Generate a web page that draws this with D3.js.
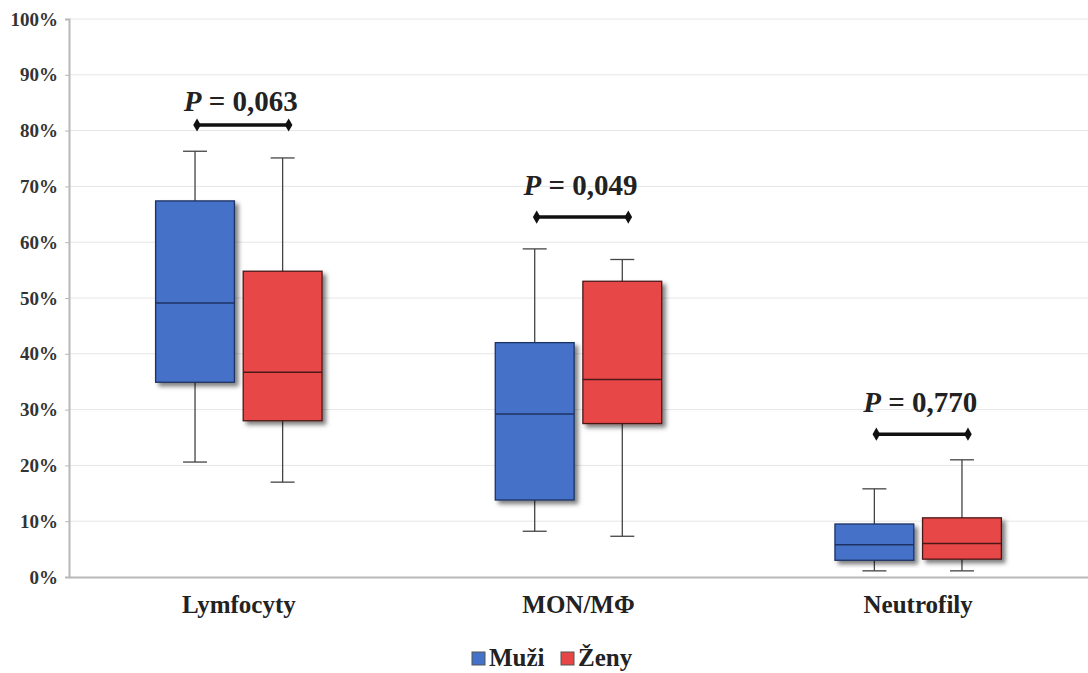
<!DOCTYPE html>
<html>
<head>
    <meta charset="utf-8">
    <title>Box plot with D3.js</title>
    <script src="https://d3js.org/d3.v7.min.js"></script>
    <style>
        body { margin: 0; background: #fff; }
        svg text { font-family: 'Liberation Serif', 'Times New Roman', Tinos, 'DejaVu Serif', serif !important; font-weight: bold; fill: #222; }
        .grid line { stroke: #e6e6e6; stroke-width: 1; }
        .whisker { stroke: #444; stroke-width: 1.3; }
    </style>
</head>
<body>
    <svg id="chart" width="1088" height="673"></svg>

    <script>
        // Categories and series
        const categories = ['Lymfocyty', 'MON/MΦ', 'Neutrofily'];
        const series = ['Muži', 'Ženy'];

        // Box values in % per category: [min, Q1, median, Q3, max]
        const muziBoxes = [
            [20.6, 34.9, 49.1, 67.4, 76.3],
            [8.2, 13.8, 29.2, 42.0, 58.8],
            [1.1, 3.0, 5.8, 9.5, 15.8]
        ];
        const zenyBoxes = [
            [17.0, 28.0, 36.7, 54.8, 75.1],
            [7.3, 27.5, 35.4, 53.0, 56.9],
            [1.1, 3.2, 6.0, 10.6, 21.0]
        ];

        // P-values with bracket level and text level (in %)
        const pLabels = ['0,063', '0,049', '0,770'];
        const pLineLevels = [81.0, 64.5, 25.6];
        const pTextLevels = [83.6, 68.5, 29.6];

        const yTicks = [0, 10, 20, 30, 40, 50, 60, 70, 80, 90, 100];

        const colors = { 'Muži': '#4472c8', 'Ženy': '#e84646' };
        const strokes = { 'Muži': '#1d3263', 'Ženy': '#4a1818' };

        const svg = d3.select('#chart');
        const plotL = 69, plotR = 1088, plotT = 19, plotB = 577;

        const y = d3.scaleLinear().domain([0, 100]).range([plotB, plotT]);
        const x0 = d3.scaleBand().domain(categories).range([plotL, plotR])
            .paddingInner(0.51).paddingOuter(0.255);
        const x1 = d3.scaleBand().domain(series).range([0, x0.bandwidth()]).paddingInner(0.1);

        // drop shadow for boxes
        const defs = svg.append('defs');
        const f = defs.append('filter').attr('id', 'shadow')
            .attr('x', '-10%').attr('y', '-10%').attr('width', '130%').attr('height', '130%');
        f.append('feDropShadow').attr('dx', 3.5).attr('dy', 3.5).attr('stdDeviation', 2)
            .attr('flood-color', '#000').attr('flood-opacity', 0.5);

        // gridlines
        svg.append('g').attr('class', 'grid')
            .selectAll('line').data(yTicks.filter(d => d > 0)).join('line')
            .attr('x1', plotL).attr('x2', plotR)
            .attr('y1', d => y(d)).attr('y2', d => y(d));

        // y axis
        const yAxis = svg.append('g').attr('transform', `translate(${plotL},0)`)
            .call(d3.axisLeft(y).tickValues(yTicks).tickFormat(d => d + '%').tickSize(4).tickPadding(7));
        yAxis.attr('font-family', null);
        yAxis.select('.domain').attr('stroke', '#b8b8b8').attr('stroke-width', 2);
        yAxis.selectAll('.tick line').attr('stroke', '#b8b8b8');
        yAxis.selectAll('.tick text').attr('font-size', 19).style('fill', '#333');

        // x axis
        const xAxis = svg.append('g').attr('transform', `translate(0,${plotB})`)
            .call(d3.axisBottom(x0).tickSize(0).tickPadding(18));
        xAxis.attr('font-family', null);
        xAxis.select('.domain').attr('stroke', '#b8b8b8').attr('stroke-width', 2);
        xAxis.selectAll('.tick text').attr('font-size', 25).style('fill', '#222');

        // boxes
        const boxData = [];
        categories.forEach((c, i) => {
            boxData.push({ cat: c, s: 'Muži', v: muziBoxes[i] });
            boxData.push({ cat: c, s: 'Ženy', v: zenyBoxes[i] });
        });

        const g = svg.append('g');
        const box = g.selectAll('g.box').data(boxData).join('g').attr('class', 'box')
            .attr('transform', d => `translate(${x0(d.cat) + x1(d.s)},0)`);
        const bw = x1.bandwidth();
        const cap = 24;

        box.append('line').attr('class', 'whisker')
            .attr('x1', bw / 2).attr('x2', bw / 2)
            .attr('y1', d => y(d.v[0])).attr('y2', d => y(d.v[4]));
        box.append('line').attr('class', 'whisker')
            .attr('x1', bw / 2 - cap / 2).attr('x2', bw / 2 + cap / 2)
            .attr('y1', d => y(d.v[0])).attr('y2', d => y(d.v[0]));
        box.append('line').attr('class', 'whisker')
            .attr('x1', bw / 2 - cap / 2).attr('x2', bw / 2 + cap / 2)
            .attr('y1', d => y(d.v[4])).attr('y2', d => y(d.v[4]));
        box.append('rect')
            .attr('x', 0).attr('width', bw)
            .attr('y', d => y(d.v[3])).attr('height', d => y(d.v[1]) - y(d.v[3]))
            .attr('fill', d => colors[d.s]).attr('stroke', d => strokes[d.s]).attr('stroke-width', 1.3)
            .attr('filter', 'url(#shadow)');
        box.append('line')
            .attr('x1', 0).attr('x2', bw)
            .attr('y1', d => y(d.v[2])).attr('y2', d => y(d.v[2]))
            .attr('stroke', d => strokes[d.s]).attr('stroke-width', 1.5);

        // p-value brackets
        const ann = svg.append('g').selectAll('g').data(categories).join('g');
        ann.append('line')
            .attr('x1', d => x0(d) + x1('Muži') + bw / 2 + 2)
            .attr('x2', d => x0(d) + x1('Ženy') + bw / 2 + 6)
            .attr('y1', (d, i) => y(pLineLevels[i])).attr('y2', (d, i) => y(pLineLevels[i]))
            .attr('stroke', '#111').attr('stroke-width', 3.5);
        [['Muži', 2], ['Ženy', 6]].forEach(([s, off]) => {
            ann.append('path')
                .attr('d', d3.symbol(d3.symbolDiamond, 50))
                .attr('transform', (d, i) => `translate(${x0(d) + x1(s) + bw / 2 + off},${y(pLineLevels[i])})`)
                .attr('fill', '#111');
        });
        const t = ann.append('text')
            .attr('x', d => x0(d) + x0.bandwidth() / 2 + 2)
            .attr('y', (d, i) => y(pTextLevels[i]))
            .attr('text-anchor', 'middle').attr('font-size', 29);
        t.append('tspan').attr('font-style', 'italic').text('P');
        t.append('tspan').text((d, i) => ' = ' + pLabels[i]);

        // legend
        const lg = svg.append('g').attr('transform', 'translate(472,652)');
        const li = lg.selectAll('g').data(series).join('g')
            .attr('transform', (d, i) => `translate(${i * 89},0)`);
        li.append('rect').attr('width', 13).attr('height', 13)
            .attr('fill', d => colors[d]).attr('stroke', '#555').attr('stroke-width', 1);
        li.append('text').attr('x', 17).attr('y', 14).attr('font-size', 25).text(d => d);
    </script>
</body>
</html>
